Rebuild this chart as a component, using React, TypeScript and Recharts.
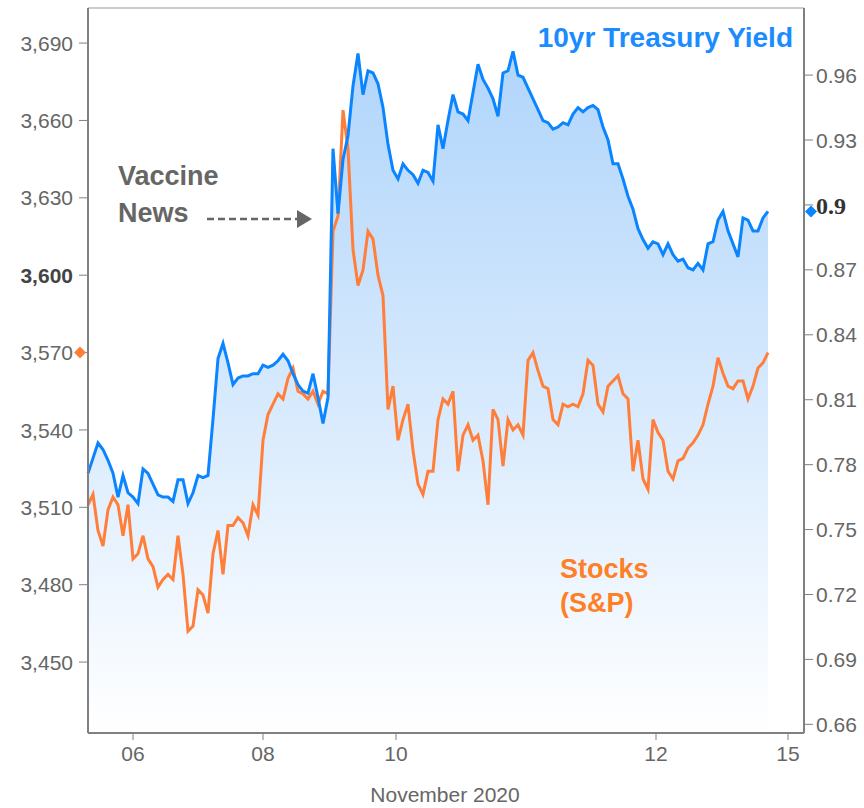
import React from 'react';
import { ComposedChart, Area, Line, XAxis, YAxis, ReferenceLine, ReferenceDot } from 'recharts';

// 10yr yield (right axis), sampled evenly across Nov 5 - Nov 13
const yieldVals = [
  0.776, 0.783, 0.790, 0.787, 0.782, 0.776, 0.765, 0.775, 0.767, 0.765,
  0.762, 0.778, 0.776, 0.771, 0.766, 0.765, 0.765, 0.763, 0.773, 0.773,
  0.762, 0.767, 0.775, 0.774, 0.775, 0.801, 0.829, 0.836, 0.827, 0.817,
  0.820, 0.821, 0.821, 0.822, 0.822, 0.826, 0.825, 0.826, 0.828, 0.831,
  0.828, 0.822, 0.817, 0.814, 0.813, 0.822, 0.811, 0.799, 0.811, 0.926,
  0.896, 0.921, 0.932, 0.955, 0.970, 0.951, 0.962, 0.961, 0.956, 0.945,
  0.928, 0.916, 0.912, 0.919, 0.916, 0.914, 0.910, 0.916, 0.915, 0.911,
  0.937, 0.926, 0.939, 0.951, 0.943, 0.942, 0.939, 0.952, 0.965, 0.958,
  0.954, 0.949, 0.941, 0.961, 0.962, 0.971, 0.960, 0.959, 0.954, 0.949,
  0.944, 0.939, 0.938, 0.935, 0.936, 0.938, 0.937, 0.942, 0.945, 0.943,
  0.945, 0.946, 0.944, 0.936, 0.930, 0.919, 0.919, 0.912, 0.904, 0.898,
  0.889, 0.884, 0.880, 0.883, 0.882, 0.877, 0.882, 0.877, 0.874, 0.875,
  0.871, 0.870, 0.873, 0.870, 0.882, 0.883, 0.893, 0.897, 0.888, 0.882,
  0.876, 0.894, 0.893, 0.888, 0.888, 0.894, 0.897,
];

// S&P 500 (left axis)
const spxVals = [
  3511, 3515, 3501, 3495, 3509, 3514, 3511, 3499, 3511, 3490,
  3492, 3499, 3490, 3487, 3479, 3482, 3484, 3482, 3499, 3484,
  3462, 3464, 3478, 3476, 3469, 3492, 3501, 3484, 3503, 3503,
  3506, 3504, 3499, 3511, 3507, 3536, 3546, 3550, 3554, 3552,
  3560, 3564, 3555, 3554, 3552, 3555, 3550, 3555, 3554, 3617,
  3623, 3664, 3649, 3610, 3596, 3602, 3617, 3614, 3600, 3592,
  3548, 3557, 3536, 3544, 3550, 3532, 3519, 3515, 3524, 3524,
  3544, 3552, 3550, 3555, 3524, 3538, 3542, 3536, 3538, 3528,
  3511, 3548, 3544, 3526, 3544, 3540, 3542, 3538, 3567, 3570,
  3563, 3557, 3556, 3544, 3542, 3550, 3549, 3550, 3549, 3554,
  3567, 3565, 3550, 3547, 3557, 3559, 3561, 3554, 3552, 3524,
  3536, 3521, 3517, 3544, 3539, 3536, 3524, 3521, 3528, 3529,
  3533, 3535, 3538, 3542, 3550, 3557, 3568, 3562, 3557, 3556,
  3559, 3559, 3552, 3557, 3564, 3566, 3570,
];

const xTickPos = [9, 35, 61.6, 113.6, 140];
const xTickLabels = ['06', '08', '10', '12', '15'];
const spxTicks = [3450, 3480, 3510, 3540, 3570, 3600, 3630, 3660, 3690];
const yieldTicks = [0.66, 0.69, 0.72, 0.75, 0.78, 0.81, 0.84, 0.87, 0.9, 0.93, 0.96];

const data = yieldVals.map((v, i) => ({ t: i, yield: v, spx: spxVals[i] }));

const FONT = "'Liberation Sans', Arial, sans-serif";
const GRAY = '#666';
const AXIS = '#808080';
const BLUE = '#0a84ff';
const ORANGE = '#ff7f3a';

const LeftTick = (props: any) => {
  const { x, y, payload } = props;
  const bold = payload.value === 3600;
  return (
    <text x={x} y={y} dy="0.36em" textAnchor="end" fontSize={21} fontFamily={FONT}
      fill={bold ? '#444' : GRAY} fontWeight={bold ? 700 : 400}>
      {payload.value.toLocaleString('en-US')}
    </text>
  );
};

const RightTick = (props: any) => {
  const { x, y, payload } = props;
  const cur = payload.value === 0.9;
  return (
    <text x={x} y={y} dy="0.36em" textAnchor="start" fontSize={cur ? 24 : 21}
      fontFamily={cur ? "'Liberation Serif', serif" : FONT}
      fill={cur ? '#333' : GRAY} fontWeight={cur ? 700 : 400}>
      {cur ? '0.9' : payload.value.toFixed(2)}
    </text>
  );
};

const diamond = (color: string, dx: number) => (props: any) => {
  const { cx, cy } = props;
  const x = cx + dx;
  return <path d={`M${x},${cy - 6} L${x + 6},${cy} L${x},${cy + 6} L${x - 6},${cy} Z`} fill={color} />;
};

export default function App() {
  const last = data[data.length - 1];
  return (
    <div style={{ position: 'absolute', left: 0, top: 0, width: 864, height: 808, background: '#fff' }}>
      <ComposedChart width={864} height={808} data={data} margin={{ top: 8, right: 0, bottom: 0, left: 0 }}>
        <defs>
          <linearGradient id="yieldFill" x1="0" y1="0" x2="0" y2="1">
            <stop offset="0%" stopColor="#b0d5fb" />
            <stop offset="50%" stopColor="#d6e9fd" />
            <stop offset="100%" stopColor="#ffffff" />
          </linearGradient>
        </defs>
        <XAxis dataKey="t" type="number" domain={[0, 143.2]} ticks={xTickPos}
          tickFormatter={(v: number) => xTickLabels[xTickPos.indexOf(v)]}
          height={75} tickSize={7} tickMargin={6}
          axisLine={{ stroke: AXIS, strokeWidth: 2 }} tickLine={{ stroke: AXIS }}
          tick={{ fontSize: 21, fontFamily: FONT, fill: GRAY }} />
        <YAxis yAxisId="left" orientation="left" domain={[3422.5, 3703.6]} ticks={spxTicks}
          width={88} tickSize={9} tickMargin={6} tick={<LeftTick />}
          axisLine={{ stroke: AXIS, strokeWidth: 2 }} tickLine={{ stroke: AXIS }} />
        <YAxis yAxisId="right" orientation="right" domain={[0.656, 0.991]} ticks={yieldTicks}
          width={60} tickSize={9} tickMargin={3} tick={<RightTick />}
          axisLine={{ stroke: AXIS, strokeWidth: 2 }} tickLine={{ stroke: AXIS }} />
        <ReferenceLine yAxisId="left" y={3703.6} stroke="#999" strokeWidth={1} ifOverflow="visible" />
        <Area yAxisId="right" type="linear" dataKey="yield" stroke="none" fill="url(#yieldFill)"
          fillOpacity={1} isAnimationActive={false} />
        <Line yAxisId="left" type="linear" dataKey="spx" stroke={ORANGE} strokeWidth={3}
          dot={false} isAnimationActive={false} />
        <Line yAxisId="right" type="linear" dataKey="yield" stroke={BLUE} strokeWidth={3}
          dot={false} isAnimationActive={false} />
        <ReferenceDot yAxisId="left" x={0} y={last.spx} ifOverflow="visible" shape={diamond(ORANGE, -8)} />
        <ReferenceDot yAxisId="right" x={143.2} y={last.yield} ifOverflow="visible" shape={diamond(BLUE, 7)} />
      </ComposedChart>
      <svg width={864} height={808} style={{ position: 'absolute', left: 0, top: 0, pointerEvents: 'none' }}>
        <g fontFamily={FONT} fontWeight={700}>
          <text x={118} y={185} fontSize={27} fill="#666">Vaccine</text>
          <text x={118} y={222} fontSize={27} fill="#666">News</text>
          <line x1={207} y1={219} x2={298} y2={219} stroke="#666" strokeWidth={2.5} strokeDasharray="7 4" />
          <polygon points="297,210 312,219 297,228" fill="#666" />
          <text x={793} y={47} fontSize={28} fill="#1a8cff" textAnchor="end">10yr Treasury Yield</text>
          <text x={560} y={578} fontSize={27} fill="#ff7f27">Stocks</text>
          <text x={560} y={612} fontSize={27} fill="#ff7f27">(S&amp;P)</text>
        </g>
        <text x={445} y={802} fontSize={21} fontFamily={FONT} fill={GRAY} textAnchor="middle">November 2020</text>
      </svg>
    </div>
  );
}
